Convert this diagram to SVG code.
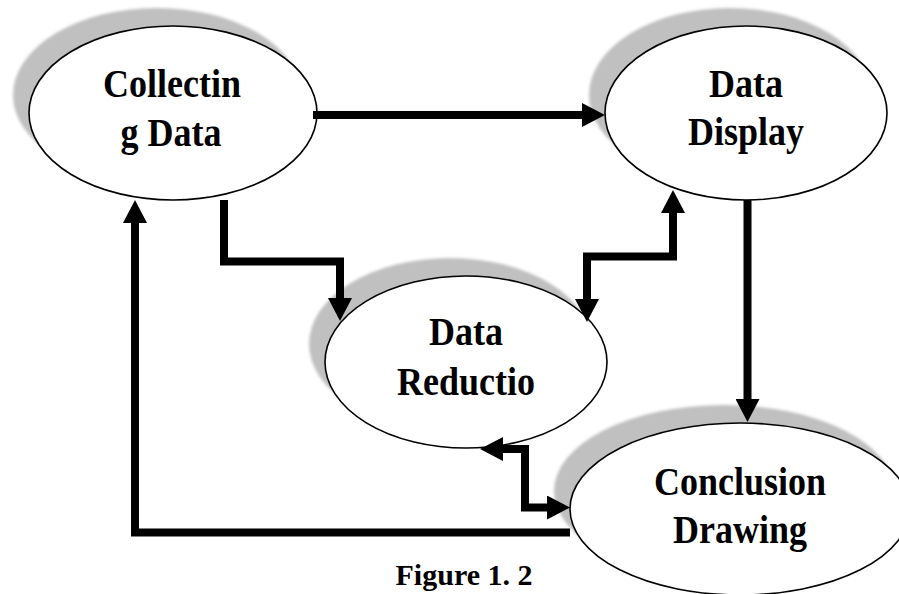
<svg xmlns="http://www.w3.org/2000/svg" width="899" height="594" viewBox="0 0 899 594">
<defs>
<filter id="blur" x="-10%" y="-10%" width="120%" height="120%"><feGaussianBlur stdDeviation="1.8"/></filter>
<marker id="ah" markerUnits="userSpaceOnUse" markerWidth="24" markerHeight="24" refX="0" refY="12" orient="auto-start-reverse" viewBox="0 0 23 24"><path d="M0,0 L23,12 L0,24 z" fill="#000"/></marker>
</defs>
<style>
.sh{fill:#c0c0c0;filter:url(#blur)}
.el{fill:#fff;stroke:#000;stroke-width:1.6}
.t{font-family:"Liberation Serif","Times New Roman",serif;font-weight:bold;font-size:36px;text-anchor:middle;fill:#000}
.c{fill:none;stroke:#000;stroke-width:8;stroke-linejoin:miter}
</style>
<rect width="899" height="594" fill="#fff"/>
<g id="shadows">
<ellipse class="sh" cx="157" cy="95" rx="144" ry="87"/>
<ellipse class="sh" cx="730" cy="95" rx="141" ry="87"/>
<ellipse class="sh" cx="450" cy="344" rx="141" ry="86"/>
<ellipse class="sh" cx="724" cy="491" rx="170" ry="86"/>
</g>
<g id="collecting-data">
<ellipse class="el" cx="173" cy="113" rx="144" ry="87"/>
<text class="t" transform="translate(172,97) scale(1,1.1)">Collectin</text>
<text class="t" transform="translate(171,146) scale(1,1.1)">g Data</text>
</g>
<g id="data-display">
<ellipse class="el" cx="746" cy="113" rx="141" ry="87"/>
<text class="t" transform="translate(746,97) scale(1,1.1)">Data</text>
<text class="t" transform="translate(746,145) scale(1,1.1)">Display</text>
</g>
<g id="data-reduction">
<ellipse class="el" cx="466" cy="362" rx="141" ry="86"/>
<text class="t" transform="translate(466,345) scale(1,1.1)">Data</text>
<text class="t" transform="translate(466,395) scale(1,1.1)">Reductio</text>
</g>
<g id="conclusion-drawing">
<ellipse class="el" cx="740" cy="509" rx="170" ry="86"/>
<text class="t" transform="translate(740,495) scale(1,1.1)">Conclusion</text>
<text class="t" transform="translate(740,543) scale(1,1.1)">Drawing</text>
</g>
<g id="connectors">
<path class="c" d="M313,115 H582" marker-end="url(#ah)"/>
<path class="c" d="M224,200 V261.5 H340 V298" marker-end="url(#ah)"/>
<path class="c" d="M587,299 V256.5 H673 V213" marker-start="url(#ah)" marker-end="url(#ah)"/>
<path class="c" d="M747.5,200 V399" marker-end="url(#ah)"/>
<path class="c" d="M503,449 H525 V507.5 H547" marker-start="url(#ah)" marker-end="url(#ah)"/>
<path class="c" d="M570,532.5 H135 V223" marker-end="url(#ah)"/>
</g>
<text class="t" x="464" y="585" style="font-size:30px">Figure 1. 2</text>
</svg>
